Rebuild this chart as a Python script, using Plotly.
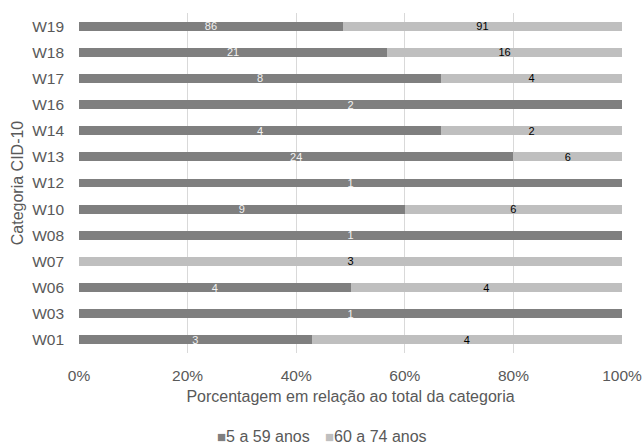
import plotly.graph_objects as go

categories = ["W01", "W03", "W06", "W07", "W08", "W10", "W12",
              "W13", "W14", "W16", "W17", "W18", "W19"]
age_5_59 = [3, 1, 4, 0, 1, 9, 1, 24, 4, 2, 8, 21, 86]
age_60_74 = [4, 0, 4, 3, 0, 6, 0, 6, 2, 0, 4, 16, 91]
series_names = ["5 a 59 anos", "60 a 74 anos"]
series_colors = ["#7f7f7f", "#bfbfbf"]
label_colors = ["#f2f2f2", "#000000"]

FONT = "Liberation Sans, Arial, sans-serif"
TXT = "#595959"

def labels(vals):
    return [str(v) if v else "" for v in vals]

fig = go.Figure()
for name, vals, col, lcol in zip(series_names, [age_5_59, age_60_74],
                                 series_colors, label_colors):
    fig.add_trace(go.Bar(
        y=categories, x=vals, name=name, orientation="h",
        marker=dict(color=col, line=dict(width=0)),
        text=labels(vals), textposition="inside", insidetextanchor="middle",
        textangle=0, textfont=dict(color=lcol, size=11, family=FONT),
        constraintext="none", hoverinfo="skip", showlegend=False,
    ))

# legend drawn as text entries below the axis title
legend_x = [0.251, 0.450]
for name, col, lx in zip(series_names, series_colors, legend_x):
    fig.add_annotation(
        xref="paper", yref="paper", x=lx, y=-0.247, xanchor="left",
        yanchor="middle", showarrow=False,
        text=f"<span style='color:{col};font-size:15px'>■</span>{name}",
        font=dict(size=16, color=TXT, family=FONT),
    )

fig.update_layout(
    width=644, height=445,
    barmode="stack", barnorm="percent", bargap=0.66,
    paper_bgcolor="white", plot_bgcolor="white",
    margin=dict(l=79, r=22, t=13, b=92),
    font=dict(family=FONT, color=TXT, size=15),
    uniformtext=dict(minsize=11, mode="show"),
    xaxis=dict(
        range=[0, 100], tickvals=[0, 20, 40, 60, 80, 100],
        ticktext=["0%", "20%", "40%", "60%", "80%", "100%"],
        showgrid=True, gridcolor="#d9d9d9", gridwidth=1,
        zeroline=False, showline=False, ticks="", automargin=False,
        ticklabelstandoff=11,
        tickfont=dict(size=15.5, color=TXT),
        title=dict(text="Porcentagem em relação ao total da categoria",
                   font=dict(size=16, color=TXT), standoff=8),
    ),
    yaxis=dict(
        categoryorder="array", categoryarray=categories,
        showgrid=False, zeroline=False, showline=False, ticks="",
        ticklabelstandoff=14, automargin=False,
        tickfont=dict(size=15.5, color=TXT),
        title=dict(text="Categoria CID-10", font=dict(size=16, color=TXT),
                   standoff=4),
    ),
)

fig.write_html("out.html")
